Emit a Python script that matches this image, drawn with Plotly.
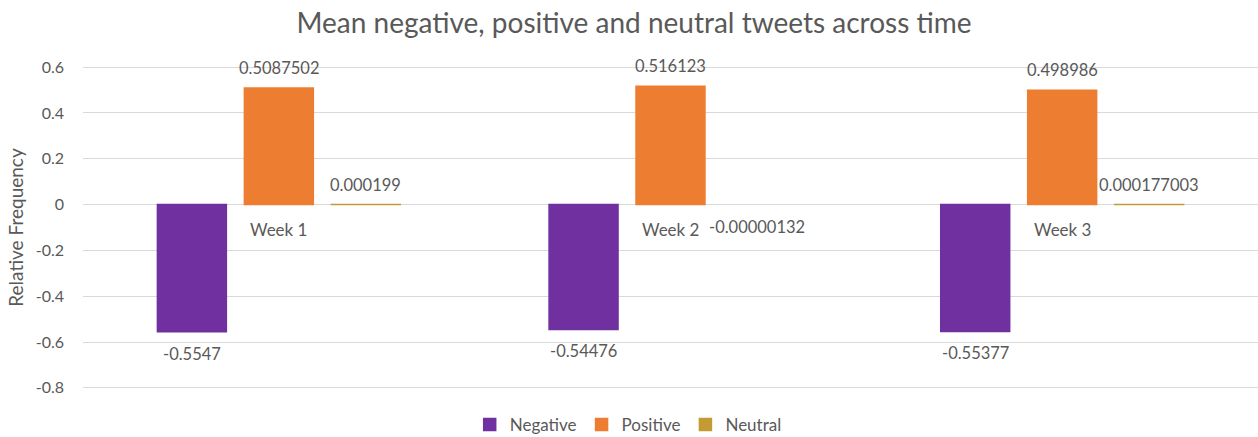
import numpy as np
import plotly.graph_objects as go

weeks = ["Week 1", "Week 2", "Week 3"]
negative = [-0.5547, -0.54476, -0.55377]
positive = [0.5087502, 0.516123, 0.498986]
neutral = [0.000199, -0.00000132, 0.000177003]

series = [
    ("Negative", negative, "#7030A0"),
    ("Positive", positive, "#ED7D31"),
    ("Neutral", neutral, "#C39A34"),
]

FONT = "Lato"
GREY = "#595959"
BARGAP = 0.334
GROUPGAP = 0.207


def fmt(v):
    return np.format_float_positional(v, trim="-")


fig = go.Figure()
for name, vals, color in series:
    fig.add_trace(go.Bar(
        name=name, x=weeks, y=vals,
        marker=dict(color=color,
                    line=dict(color=color,
                              width=[1.5 if abs(v) > 1e-4 else 0 for v in vals])),
        hoverinfo="x+y",
    ))

# value labels just beyond each bar end
annotations = []
slot = (1 - BARGAP) / len(series)
for k, (name, vals, color) in enumerate(series):
    offset = (k - (len(series) - 1) / 2) * slot
    for i, v in enumerate(vals):
        annotations.append(dict(
            x=i + offset, y=v, xref="x", yref="y",
            text=fmt(v), showarrow=False,
            yanchor="bottom" if v >= 0 else "top",
            yshift=8 if v >= 0 else -10,
            font=dict(family=FONT, size=16.5, color=GREY),
        ))

# category labels sit beside the zero line
for i, w in enumerate(weeks):
    annotations.append(dict(
        x=i, y=0, xref="x", yref="y", text=w, showarrow=False,
        yanchor="top", yshift=-12,
        font=dict(family=FONT, size=17, color=GREY),
    ))

fig.update_layout(
    width=1258, height=437,
    margin=dict(l=83, r=0, t=66, b=48, autoexpand=False),
    paper_bgcolor="white", plot_bgcolor="white",
    barmode="group", bargap=BARGAP, bargroupgap=GROUPGAP,
    title=dict(text="Mean negative, positive and neutral tweets across time",
               x=0.504, xanchor="center", y=0.947, yanchor="middle",
               font=dict(family=FONT, size=28, color=GREY)),
    font=dict(family=FONT, size=17, color=GREY),
    showlegend=True,
    legend=dict(orientation="h", x=0.464, xanchor="center", y=-0.111,
                yanchor="middle", font=dict(family=FONT, size=17, color=GREY),
                itemwidth=30, traceorder="normal"),
    annotations=annotations,
)
fig.update_xaxes(showticklabels=False, showgrid=False, showline=False,
                 zeroline=False, ticks="")
fig.update_yaxes(range=[-0.805, 0.605], tickmode="array",
                 tickvals=[-0.8, -0.6, -0.4, -0.2, 0, 0.2, 0.4, 0.6],
                 ticktext=["-0.8", "-0.6", "-0.4", "-0.2", "0", "0.2", "0.4", "0.6"],
                 showgrid=True, gridcolor="#D9D9D9", gridwidth=1,
                 zeroline=True, zerolinecolor="#D9D9D9", zerolinewidth=1,
                 ticklabelstandoff=18,
                 tickfont=dict(family=FONT, size=16, color=GREY),
                 title=dict(text="Relative Frequency", standoff=7,
                            font=dict(family=FONT, size=19, color=GREY)))

fig.write_html("out.html")
